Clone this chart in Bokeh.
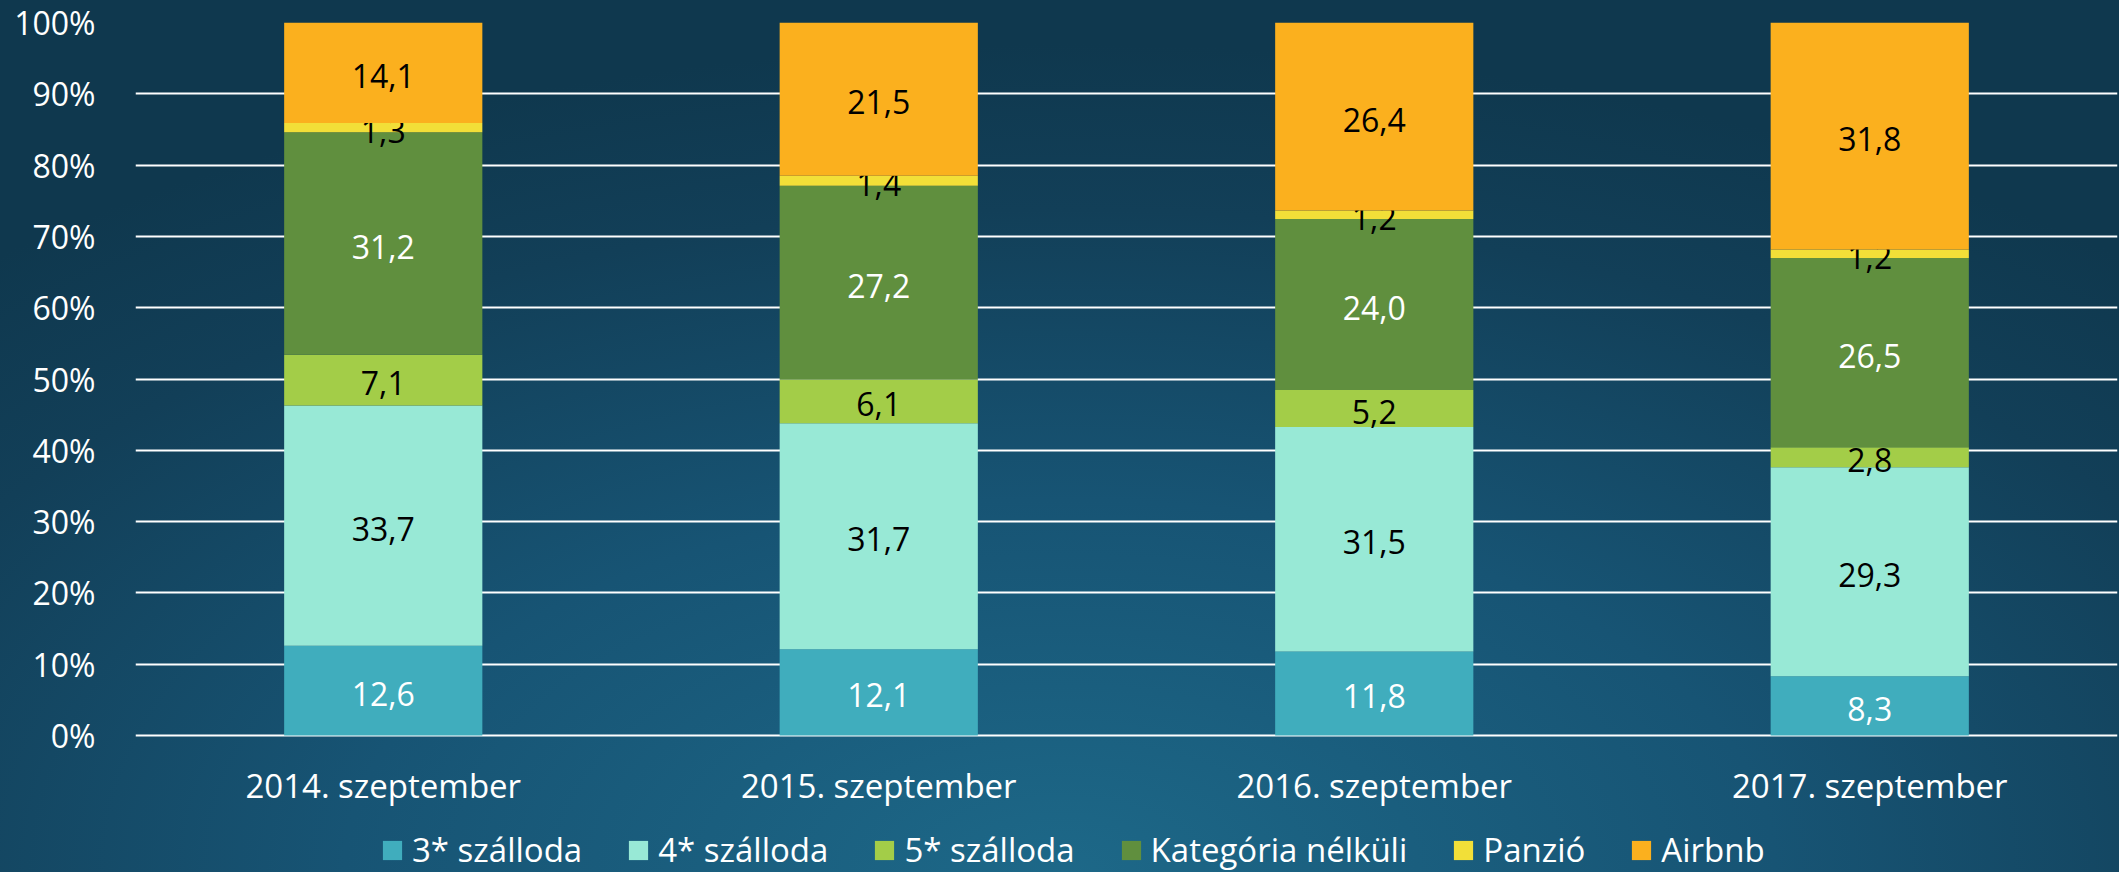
from bokeh.plotting import figure
from bokeh.models import ColumnDataSource, Legend, LegendItem, NumeralTickFormatter, FixedTicker
from bokeh.core.properties import value
from bokeh.embed import file_html
from bokeh.resources import INLINE

categories = ["2014. szeptember", "2015. szeptember", "2016. szeptember", "2017. szeptember"]
series = ["3* szálloda", "4* szálloda", "5* szálloda", "Kategória nélküli", "Panzió", "Airbnb"]
hotel3 = [12.6, 12.1, 11.8, 8.3]
hotel4 = [33.7, 31.7, 31.5, 29.3]
hotel5 = [7.1, 6.1, 5.2, 2.8]
nocat = [31.2, 27.2, 24.0, 26.5]
panzio = [1.3, 1.4, 1.2, 1.2]
airbnb = [14.1, 21.5, 26.4, 31.8]
colors = ["#40adbd", "#98e9d6", "#a3cd48", "#608f3e", "#f2df38", "#fbb01e"]
label_colors = ["white", "black", "black", "white", "black", "black"]
yticks = [0, 0.1, 0.2, 0.3, 0.4, 0.5, 0.6, 0.7, 0.8, 0.9, 1.0]

FONT = "Open Sans"
W, H = 2119, 872
TOP, ZERO = 22, 735            # pixel rows of 100% and 0%
PX = (ZERO - TOP)               # pixels per 1.0
y_min = -(H - ZERO) / PX        # frame extends to figure bottom (room for labels + legend)

values = [hotel3, hotel4, hotel5, nocat, panzio, airbnb]
totals = [sum(v[i] for v in values) for i in range(len(categories))]

p = figure(x_range=categories, y_range=(y_min, 1), width=W, height=H,
           output_backend="svg", toolbar_location=None,
           min_border_left=135, min_border_right=2, min_border_top=TOP, min_border_bottom=0,
           background_fill_color=None, border_fill_color=None, outline_line_color=None,
           styles={"background": "radial-gradient(ellipse 75% 95% at 50% 100%, #1d6888 0%, #175474 45%, #123f58 80%, #0f384e 100%)"})

p.x_range.range_padding = 0
p.xaxis.visible = False
p.xgrid.grid_line_color = None
p.ygrid.grid_line_color = "white"
p.ygrid.grid_line_width = 2
p.ygrid.ticker = FixedTicker(ticks=yticks)
p.yaxis.ticker = FixedTicker(ticks=yticks)
p.yaxis.formatter = NumeralTickFormatter(format="0%")
p.yaxis.axis_line_color = None
p.yaxis.major_tick_line_color = None
p.yaxis.minor_tick_line_color = None
p.yaxis.major_label_text_color = "white"
p.yaxis.major_label_text_font = FONT
p.yaxis.major_label_text_font_size = "32px"
p.yaxis.major_label_standoff = 34

items = []
bottoms = [0.0] * len(categories)
for s, vals, col, lc in zip(series, values, colors, label_colors):
    fr = [v / t for v, t in zip(vals, totals)]
    top = [b + f for b, f in zip(bottoms, fr)]
    mid = [b + f / 2 for b, f in zip(bottoms, fr)]
    src = ColumnDataSource(dict(x=categories, bottom=bottoms, top=top, mid=mid,
                                lab=[("%.1f" % v).replace(".", ",") for v in vals]))
    r = p.vbar(x="x", bottom="bottom", top="top", width=0.4, source=src,
               fill_color=col, line_color=None)
    p.text(x="x", y="mid", text="lab", source=src, text_align="center",
           text_baseline="middle", text_color=lc, text_font=value(FONT),
           text_font_size="32px", y_offset=3)
    items.append(LegendItem(label=s, renderers=[r]))
    bottoms = top

# category labels (x axis), 50 px below the 0% line
cat_src = ColumnDataSource(dict(x=categories, y=[-50 / PX] * len(categories), t=categories))
p.text(x="x", y="y", text="t", source=cat_src, text_align="center", text_baseline="middle",
       text_color="white", text_font=value(FONT), text_font_size="33px")

legend = Legend(items=items, orientation="horizontal", location=(245, 0),
                background_fill_alpha=0, border_line_color=None,
                label_text_color="white", label_text_font=FONT, label_text_font_size="33px",
                glyph_width=24, glyph_height=24, label_standoff=8, spacing=44,
                padding=0, margin=0)
p.add_layout(legend, "center")

open("out.html", "w").write(file_html(p, INLINE))
